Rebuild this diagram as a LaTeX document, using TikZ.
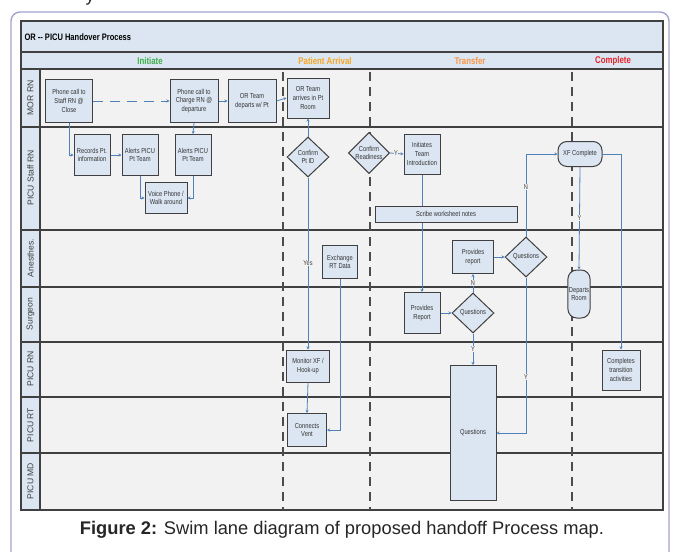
\documentclass[tikz,border=0pt]{standalone}
\usepackage{fontspec}
\setmainfont{Liberation Sans}
\newfontfamily\nar[FakeStretch=0.8]{Liberation Sans}
\usetikzlibrary{shapes.geometric,arrows.meta}
\definecolor{boxfill}{HTML}{DCE6F2}
\definecolor{lanebg}{HTML}{F2F2F2}
\definecolor{connc}{HTML}{4F81BD}
\definecolor{edgec}{HTML}{404040}
\definecolor{framec}{HTML}{A3A3CF}
\definecolor{inic}{HTML}{3DAE49}
\definecolor{arrc}{HTML}{F6A623}
\definecolor{trc}{HTML}{F79646}
\definecolor{cplc}{HTML}{E8232A}
\tikzset{
  box/.style={draw=edgec, line width=1pt, fill=boxfill, align=center, inner sep=1pt,
    font=\nar\fontsize{7.2}{8.6}\selectfont, text=black!80},
  dia/.style={box, diamond, inner sep=0pt},
  conn/.style={draw=connc, line width=0.8pt, -{Stealth[length=3pt,width=3pt]}},
  lbl/.style={fill=lanebg, inner sep=0.5pt, font=\nar\fontsize{7}{8}\selectfont, text=black!75},
  lane/.style={rotate=90, font=\fontsize{8.6}{10}\selectfont, text=black!75},
  phase/.style={font=\nar\bfseries\fontsize{9.8}{11}\selectfont},
  divider/.style={draw=black!70, line width=1.3pt, dash pattern=on 9pt off 6pt},
}
\begin{document}
\begin{tikzpicture}[x=1pt,y=-1pt]
\useasboundingbox (0,0) rectangle (673,552);
\fill[white] (0,0) rectangle (673,552);
% cut-off text above
\node[anchor=base, font=\fontsize{18}{20}\selectfont, text=black!85] (ytop) at (90,1.5) {y};
% outer frame
\draw[framec, line width=1.4pt, rounded corners=9pt] (11,12) rectangle (669,600);
% bands
\fill[boxfill] (21,21) rectangle (663,69);
\fill[lanebg] (40,69) rectangle (663,510);
\fill[boxfill] (21,69) rectangle (40,510);
\node[anchor=west, font=\nar\bfseries\fontsize{9.4}{11}\selectfont] (title) at (21,37) {OR -- PICU Handover Process};
\node[phase, text=inic] (ph1) at (150,61) {Initiate};
\node[phase, text=arrc] (ph2) at (325,61) {Patient Arrival};
\node[phase, text=trc] (ph3) at (470,61) {Transfer};
\node[phase, text=cplc] (ph4) at (613,61) {Complete};
% lane lines
\foreach \yy in {52,69,127,230,287,342,397,453}
  \draw[edgec, line width=1.2pt] (21,\yy) -- (663,\yy);
\draw[edgec, line width=1.2pt] (40,69) -- (40,510);
\draw[edgec, line width=1.3pt] (21,21) rectangle (663,510);
% lane labels
\node[lane] (l1) at (30.5,98) {MOR RN};
\node[lane] (l2) at (30.5,178) {PICU Staff RN};
\node[lane] (l3) at (30.5,258) {Anesthes.};
\node[lane] (l4) at (30.5,314) {Surgeon};
\node[lane] (l5) at (30.5,369) {PICU RN};
\node[lane] (l6) at (30.5,425) {PICU RT};
\node[lane] (l7) at (30.5,481) {PICU MD};
% phase dividers
\foreach \xx in {283,370,572}
  \draw[divider] (\xx,72) -- (\xx,510);
% nodes
\node[box, minimum width=47pt, minimum height=43pt] (n1) at (69,101) {Phone call to\\Staff RN @\\Close};
\node[box, minimum width=48pt, minimum height=43pt] (n2) at (194,101) {Phone call to\\Charge RN @\\departure};
\node[box, minimum width=48pt, minimum height=43pt] (n3) at (252,101) {OR Team\\departs w/ Pt};
\node[box, minimum width=42pt, minimum height=40pt] (n4) at (308,98) {OR Team\\arrives in Pt\\Room};
\node[box, minimum width=36pt, minimum height=41pt] (n5) at (92,155) {Records Pt.\\information};
\node[box, minimum width=36pt, minimum height=41pt] (n6) at (140,155) {Alerts PICU\\Pt Team};
\node[box, minimum width=36pt, minimum height=41pt] (n7) at (193,155) {Alerts PICU\\Pt Team};
\node[box, minimum width=42pt, minimum height=31pt] (n8) at (166,198) {Voice Phone /\\Walk around};
\node[dia, minimum width=42pt, minimum height=40pt] (d1) at (308,157) {Confirm\\Pt ID};
\node[dia, minimum width=41pt, minimum height=39pt] (d2) at (369,153) {Confirm\\Readiness};
\node[box, minimum width=36pt, minimum height=40pt] (n9) at (422,154) {Initiates\\Team\\Introduction};
\node[box, minimum width=35pt, minimum height=33pt] (n11) at (340,262) {Exchange\\RT Data};
\node[box, minimum width=41pt, minimum height=33pt] (n12) at (473,257) {Provides\\report};
\node[dia, minimum width=42pt, minimum height=40pt] (d3) at (526,257) {Questions};
\node[box, minimum width=36pt, minimum height=41pt] (n13) at (422,313) {Provides\\Report};
\node[dia, minimum width=42pt, minimum height=40pt] (d4) at (473,313) {Questions};
\node[box, minimum width=43pt, minimum height=32pt] (n14) at (308,366) {Monitor XF /\\Hook-up};
\node[box, minimum width=39pt, minimum height=33pt] (n15) at (307,430) {Connects\\Vent};
\node[box, minimum width=46pt, minimum height=135pt] (n16) at (473,433) {Questions};
\node[box, rounded corners=9pt, minimum width=44pt, minimum height=25pt] (n17) at (580,154) {XF Complete};
\node[box, rounded corners=9pt, minimum width=22pt, minimum height=48pt] (n18) at (579,294) {Departs\\Room};
\node[box, minimum width=38pt, minimum height=40pt] (n19) at (621,370) {Completes\\transition\\activities};
% connectors
\draw[conn] (n1.south) |- (n5.west);
\draw[conn, dash pattern=on 10pt off 7pt] (n1.east) -- (n2.west);
\draw[conn] (n2.east) -- (n3.west);
\draw[conn] (n3.east) -- (n4.west);
\draw[conn] (n2.south) -- (n7.north);
\draw[conn] (n5.east) -- (n6.west);
\draw[conn] (n6.south) |- (n8.west);
\draw[conn] (n7.south) |- (n8.east);
\draw[conn] (d1.north) -- (n4.south);
\draw[conn] (d1.south) -- node[lbl, pos=0.5] {Yes} (n14.north);
\draw[conn] (n14.south) -- (n15.north);
\draw[conn] (n11.south) |- (n15.east);
\draw[conn] (d2.east) -- node[lbl, pos=0.45] {Y} (n9.west);
\draw[conn] (n9.south) -- (n13.north);
\draw[conn] (n13.east) -- (d4.west);
\draw[conn] (d4.north) -- node[lbl, pos=0.5] {N} (n12.south);
\draw[conn] (d4.south) -- node[lbl, pos=0.5] {Y} (n16.north);
\draw[conn] (n12.east) -- (d3.west);
\draw[conn] (d3.north) |- node[lbl, pos=0.3] {N} (n17.west);
\draw[conn] (d3.south) |- node[lbl, pos=0.32] {Y} (n16.east);
\draw[conn] (n17.south) -- node[lbl, pos=0.5] {Y} (n18.north);
\draw[conn] (n17.east) -| (n19.north);
% scribe box over the line
\node[box, minimum width=142pt, minimum height=16pt] (n10) at (446,214) {Scribe worksheet notes};
% caption
\node[font=\fontsize{18.3}{21}\selectfont, text=black!85] (cap) at (342,530) {\textbf{Figure 2:} Swim lane diagram of proposed handoff Process map.};
\end{tikzpicture}
\end{document}
